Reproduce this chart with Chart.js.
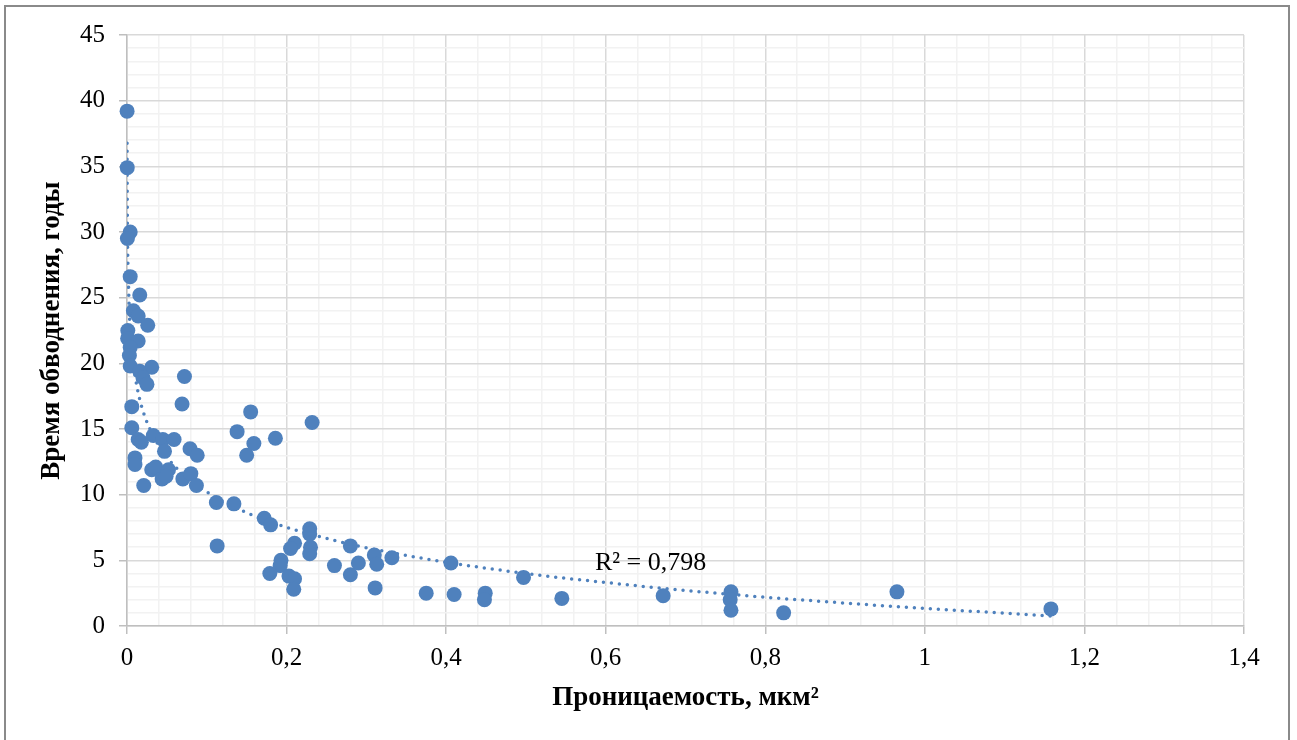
<!DOCTYPE html>
<html>
<head>
<meta charset="utf-8">
<script src="https://cdn.jsdelivr.net/npm/chart.js@4.4.1/dist/chart.umd.min.js"></script>
<style>
    html, body { margin: 0; padding: 0; background: #fff; }
    #wrap { position: relative; width: 1297px; height: 740px; overflow: hidden; }
    #frame {
        position: absolute; left: 4px; top: 5px; width: 1286px; height: 780px;
        border: 2px solid #8a8a8a; box-sizing: border-box; pointer-events: none;
    }
</style>
</head>
<body>
<div id="wrap">
    <canvas id="chart" width="1297" height="740"></canvas>
    <div id="frame"></div>
</div>
<script>
(function () {
    "use strict";

    // Data: permeability (mkm2) and watering time (years)
    const PERM = [
        0.0001, 0.0003, 0.004, 0.0005, 0.004, 0.016, 0.008, 0.014, 0.026, 0.001,
        0.0008, 0.014, 0.004, 0.003, 0.004, 0.031, 0.016, 0.020, 0.025, 0.072,
        0.006, 0.069, 0.155, 0.232, 0.006, 0.138, 0.014, 0.018, 0.033, 0.045,
        0.059, 0.159, 0.186, 0.079, 0.047, 0.150, 0.088, 0.010, 0.010, 0.031,
        0.036, 0.052, 0.044, 0.049, 0.070, 0.080, 0.021, 0.087, 0.112, 0.134,
        0.172, 0.180, 0.113, 0.229, 0.229, 0.230, 0.229, 0.210, 0.205, 0.193,
        0.192, 0.179, 0.203, 0.210, 0.209, 0.280, 0.260, 0.290, 0.280, 0.310,
        0.313, 0.332, 0.311, 0.375, 0.406, 0.410, 0.449, 0.448, 0.497, 0.545,
        0.672, 0.757, 0.756, 0.757, 0.823, 0.965, 1.158
    ];
    const YEARS = [
        39.2, 34.9, 30.0, 29.5, 26.6, 25.2, 24.0, 23.6, 22.9, 22.5,
        21.9, 21.7, 21.2, 20.6, 19.8, 19.7, 19.4, 18.9, 18.4, 19.0,
        16.7, 16.9, 16.3, 15.5, 15.1, 14.8, 14.2, 14.0, 14.5, 14.2,
        14.2, 13.9, 14.3, 13.5, 13.3, 13.0, 13.0, 12.8, 12.3, 11.9,
        12.1, 11.9, 11.2, 11.4, 11.2, 11.6, 10.7, 10.7, 9.4, 9.3,
        8.2, 7.7, 6.1, 7.4, 7.0, 6.0, 5.5, 6.3, 5.9, 5.0,
        4.6, 4.0, 3.8, 3.6, 2.8, 6.1, 4.6, 4.8, 3.9, 5.4,
        4.7, 5.2, 2.9, 2.5, 4.8, 2.4, 2.5, 2.0, 3.7, 2.1,
        2.3, 2.6, 2.0, 1.2, 1.0, 2.6, 1.3
    ];
    const R2_TEXT = "R² = 0,798";
    const R2_POS = [0.5865, 4.8];

    const BLUE = "#4f81bd";
    const FONT = "'Liberation Serif', 'Times New Roman', serif";

    // Logarithmic trendline, least squares on ln(x)
    const lx = PERM.map(Math.log);
    const n = lx.length;
    let sx = 0, sy = 0, sxx = 0, sxy = 0;
    for (let i = 0; i < n; i++) {
        sx += lx[i]; sy += YEARS[i];
        sxx += lx[i] * lx[i]; sxy += lx[i] * YEARS[i];
    }
    const slope = (n * sxy - sx * sy) / (n * sxx - sx * sx);
    const intercept = (sy - slope * sx) / n;
    const trendX = Array.from(new Set(PERM)).sort((a, b) => a - b);
    const trend = trendX.map((x) => ({ x: x, y: slope * Math.log(x) + intercept }));

    const points = PERM.map((x, i) => ({ x: x, y: YEARS[i] }));

    const isMajor = (v, step) => Math.abs(v / step - Math.round(v / step)) < 1e-6;
    const fmt = (v) => String(Math.round(v * 10) / 10).replace(".", ",");

    const gridColor = (step) => (ctx) =>
        ctx.tick && isMajor(ctx.tick.value, step) ? "#d9d9d9" : "#f2f2f2";
    const tickColor = (step) => (ctx) =>
        ctx.tick && isMajor(ctx.tick.value, step) ? "#bfbfbf" : "rgba(0,0,0,0)";

    const r2Label = {
        id: "r2Label",
        afterDatasetsDraw(chart) {
            const { ctx, scales } = chart;
            ctx.save();
            ctx.font = "26px " + FONT;
            ctx.fillStyle = "#000";
            ctx.textBaseline = "middle";
            ctx.textAlign = "left";
            ctx.fillText(R2_TEXT, scales.x.getPixelForValue(R2_POS[0]), scales.y.getPixelForValue(R2_POS[1]));
            ctx.restore();
        },
    };

    const ctx = document.getElementById("chart").getContext("2d");
    new Chart(ctx, {
        type: "scatter",
        data: {
            datasets: [
                {
                    data: points,
                    backgroundColor: BLUE,
                    borderWidth: 0,
                    pointRadius: 7.5,
                    pointHoverRadius: 7.5,
                    clip: false,
                },
                {
                    type: "line",
                    data: trend,
                    borderColor: BLUE,
                    borderWidth: 3.5,
                    borderDash: [0, 8],
                    borderCapStyle: "round",
                    pointRadius: 0,
                    fill: false,
                    tension: 0,
                },
            ],
        },
        options: {
            responsive: false,
            animation: false,
            layout: { padding: { left: 0, top: 35, right: 53, bottom: 0 } },
            plugins: {
                legend: { display: false },
                tooltip: { enabled: false },
            },
            scales: {
                x: {
                    type: "linear",
                    min: 0,
                    max: 1.4,
                    afterFit: (scale) => { scale.height = 114; },
                    border: { color: "#bfbfbf", width: 1.5 },
                    grid: {
                        color: gridColor(0.2),
                        lineWidth: 1.5,
                        tickColor: tickColor(0.2),
                        tickLength: 8,
                        tickWidth: 1.5,
                    },
                    ticks: {
                        stepSize: 0.04,
                        autoSkip: false,
                        maxRotation: 0,
                        padding: 9,
                        color: "#000",
                        font: { family: FONT, size: 25 },
                        callback: (v) => (isMajor(v, 0.2) ? fmt(v) : ""),
                    },
                    title: {
                        display: true,
                        text: "Проницаемость, мкм²",
                        color: "#000",
                        font: { family: FONT, size: 27, weight: "bold" },
                        padding: { top: 0, bottom: 26 },
                    },
                },
                y: {
                    type: "linear",
                    min: 0,
                    max: 45,
                    afterFit: (scale) => { scale.width = 127; },
                    border: { color: "#bfbfbf", width: 1.5 },
                    grid: {
                        color: gridColor(5),
                        lineWidth: 1.5,
                        tickColor: tickColor(5),
                        tickLength: 8,
                        tickWidth: 1.5,
                    },
                    ticks: {
                        stepSize: 1,
                        autoSkip: false,
                        padding: 14,
                        color: "#000",
                        font: { family: FONT, size: 25 },
                        callback: (v) => (isMajor(v, 5) ? fmt(v) : ""),
                    },
                    title: {
                        display: true,
                        text: "Время обводнения, годы",
                        color: "#000",
                        font: { family: FONT, size: 27, weight: "bold" },
                        padding: { top: 36, bottom: 0 },
                    },
                },
            },
        },
        plugins: [r2Label],
    });
})();
</script>
</body>
</html>
